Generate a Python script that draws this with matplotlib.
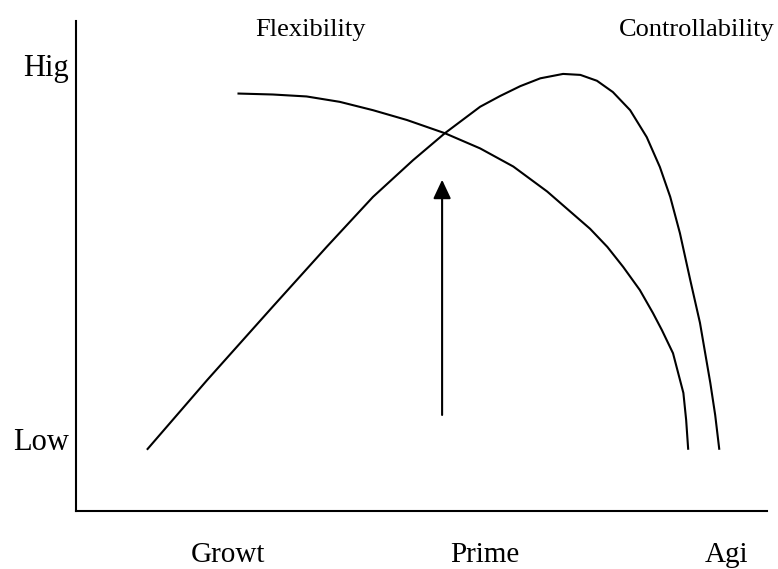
import matplotlib
matplotlib.use("Agg")
import matplotlib.pyplot as plt

plt.rcParams["font.family"] = ["Liberation Serif", "DejaVu Serif"]

# Curves (x: stage 0-100, y: level 0-100)
control_x = [10.3, 19.0, 28.5, 36.3, 43.0, 48.8, 53.4, 58.5, 61.4, 64.3, 67.2,
             70.5, 73.0, 75.4, 77.7, 80.2, 82.6, 84.5, 86.0, 87.4, 88.9, 90.3,
             91.8, 92.5, 93.1]
control_y = [12.5, 26.7, 41.7, 53.9, 64.1, 71.6, 77.1, 82.5, 84.7, 86.7, 88.3,
             89.2, 89.0, 87.8, 85.5, 81.8, 76.3, 70.2, 64.1, 56.7, 47.1, 38.4,
             26.1, 19.6, 12.5]

flex_x = [23.4, 28.5, 33.4, 38.2, 43.0, 47.9, 53.4, 58.5, 63.3, 68.2, 74.4,
          76.9, 79.2, 81.6, 83.5, 84.8, 86.4, 87.9, 88.3, 88.6]
flex_y = [85.2, 85.0, 84.6, 83.5, 81.8, 79.8, 77.1, 74.0, 70.3, 65.2, 57.6,
          53.9, 49.8, 45.1, 40.4, 36.9, 32.2, 24.1, 18.6, 12.5]

arrow_x = 53.0
arrow_y = [19.6, 67.6]

level_labels = ["Hig", "Low"]
level_pos = [88.8, 12.5]
stage_labels = ["Growt", "Prime", "Agi"]
stage_pos = [22.0, 59.2, 94.2]
curve_labels = ["Flexibility", "Controllability"]
curve_label_pos = [34.0, 89.9]

fig = plt.figure(figsize=(7.78, 5.69), dpi=100)
ax = fig.add_axes([0.0973, 0.1019, 0.8886, 0.8612])
ax.set_xlim(0, 100)
ax.set_ylim(0, 100)

for side in ("top", "right"):
    ax.spines[side].set_visible(False)
for side in ("left", "bottom"):
    ax.spines[side].set_linewidth(1.5)
ax.set_xticks([])
ax.set_yticks([])

ax.plot(control_x, control_y, color="black", linewidth=1.5,
        solid_joinstyle="round", solid_capstyle="butt")
ax.plot(flex_x, flex_y, color="black", linewidth=1.5,
        solid_joinstyle="round", solid_capstyle="butt")

ax.annotate("", xy=(arrow_x, arrow_y[1]), xytext=(arrow_x, arrow_y[0]),
            arrowprops=dict(arrowstyle="-|>,head_length=1.15,head_width=0.54",
                            mutation_scale=10, color="black", linewidth=1.5,
                            shrinkA=0, shrinkB=0))

for lab, y in zip(level_labels, level_pos):
    ax.text(-1.0, y, lab, ha="right", va="baseline", fontsize=22, clip_on=False)

for lab, x in zip(stage_labels, stage_pos):
    ax.text(x, -10.4, lab, ha="center", va="baseline", fontsize=21, clip_on=False)

for lab, x in zip(curve_labels, curve_label_pos):
    ax.text(x, 96.9, lab, ha="center", va="baseline", fontsize=19, clip_on=False)

fig.savefig("out.png", dpi=100)
